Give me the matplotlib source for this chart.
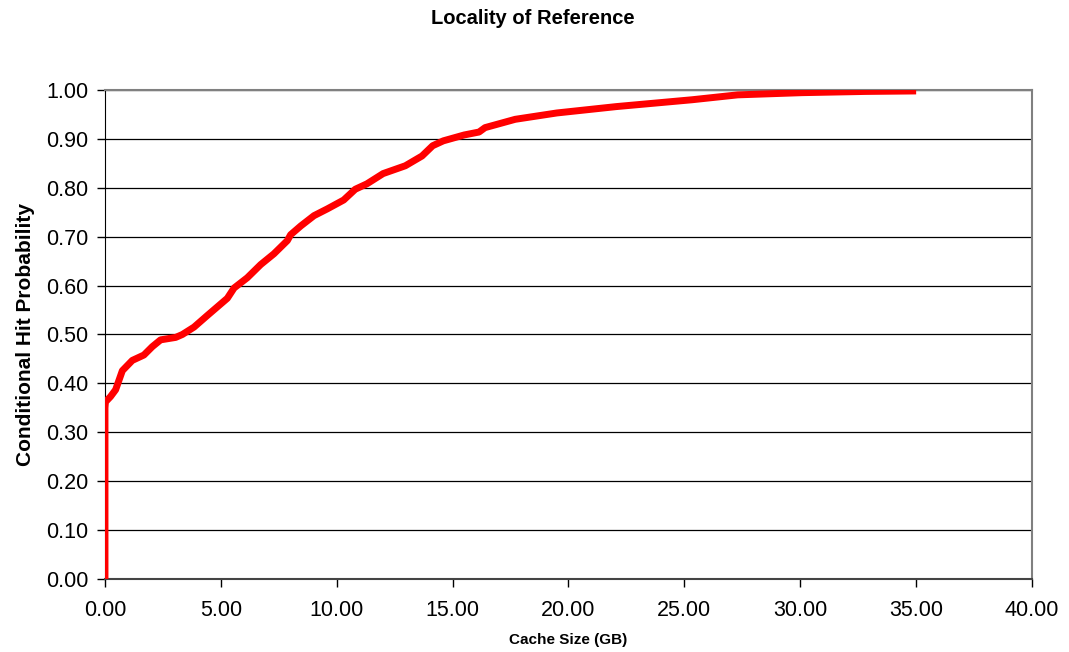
import matplotlib.pyplot as plt
import numpy as np

plt.rcParams['font.family'] = ['Liberation Sans', 'DejaVu Sans']

# cache size (GB) vs conditional hit probability
cache_gb = [0.0, 0.0, 0.02, 0.24, 0.46, 0.75, 1.18, 1.68, 2.04, 2.40, 3.05, 3.34,
            3.84, 4.42, 5.28, 5.57, 6.14, 6.72, 7.29, 7.87, 8.01, 8.45, 9.02,
            9.60, 10.3, 10.8, 11.3, 12.0, 12.96, 13.68, 14.14, 14.6, 15.5,
            16.14, 16.4, 17.7, 19.5, 22.06, 25.33, 27.3, 30.07, 32.8, 35.0]
hit_prob = [0.0, 0.35, 0.362, 0.373, 0.387, 0.426, 0.447, 0.458, 0.475, 0.489,
            0.494, 0.50, 0.515, 0.539, 0.574, 0.595, 0.616, 0.643, 0.665,
            0.692, 0.704, 0.722, 0.743, 0.757, 0.775, 0.797, 0.808, 0.829,
            0.845, 0.865, 0.886, 0.896, 0.908, 0.914, 0.923, 0.940, 0.953,
            0.966, 0.980, 0.990, 0.9945, 0.997, 0.998]

x_ticks = np.arange(0, 45, 5)
y_ticks = np.arange(0, 1.1, 0.1)

fig = plt.figure(figsize=(10.69, 6.52), dpi=100)
ax = fig.add_axes([0.0982, 0.112, 0.8672, 0.75])

ax.plot(cache_gb, hit_prob, color='#ff0000', lw=5, solid_capstyle='butt',
        solid_joinstyle='round', zorder=3)

ax.set_xlim(0, 40)
ax.set_ylim(0, 1.0)
ax.set_xticks(x_ticks)
ax.set_yticks(y_ticks)
ax.set_xticklabels([f'{v:.2f}' for v in x_ticks], fontsize=15.5)
ax.set_yticklabels([f'{v:.2f}' for v in y_ticks], fontsize=15.5)
ax.tick_params(axis='y', direction='out', length=6, width=1, color='black', pad=6)
ax.tick_params(axis='x', direction='out', length=6, width=1, color='black', pad=9)

ax.yaxis.grid(True, color='black', lw=0.9)
ax.set_axisbelow(True)

ax.spines['left'].set_color('black')
ax.spines['bottom'].set_color('#444444')
ax.spines['bottom'].set_linewidth(1.5)
ax.spines['top'].set_color('#808080')
ax.spines['top'].set_linewidth(1.5)
ax.spines['right'].set_color('#808080')
ax.spines['right'].set_linewidth(1.5)

ax.set_xlabel('Cache Size (GB)', fontsize=11, fontweight='bold', labelpad=9)
ax.set_ylabel('Conditional Hit Probability', fontsize=15, fontweight='bold', labelpad=8)
fig.text(0.4985, 0.972, 'Locality of Reference', fontsize=14.5, fontweight='bold',
         ha='center', va='center')

fig.savefig('out.png', dpi=100)
